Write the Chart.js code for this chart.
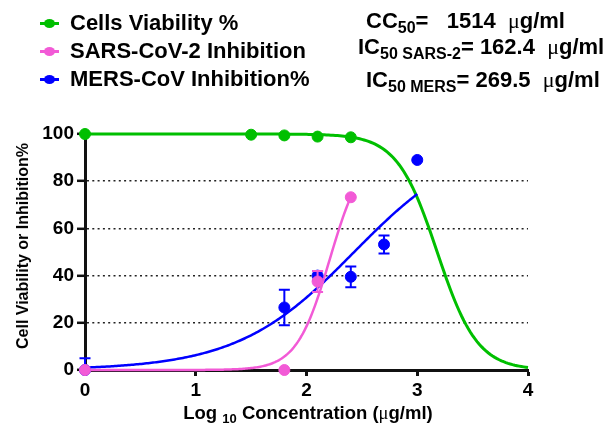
<!DOCTYPE html>
<html>
<head>
<meta charset="utf-8">
<script src="https://cdn.jsdelivr.net/npm/chart.js@4/dist/chart.umd.min.js"></script>
<style>
    body { margin: 0; background: #fff; }
    #wrap {
        position: relative;
        width: 616px;
        height: 425px;
        font-family: "Liberation Sans", Arial, sans-serif;
        font-weight: bold;
        color: #000;
    }
    #chart { position: absolute; left: 0; top: 0; }
    .leg { position: absolute; left: 0; width: 330px; height: 24px; }
    .leg .line { position: absolute; left: 40px; width: 19px; height: 3px; top: 11px; }
    .leg .dot { position: absolute; left: 44px; width: 11px; height: 9px; top: 8px; border-radius: 50%; }
    .leg .txt { position: absolute; left: 70px; top: 0; font-size: 22px; line-height: 24px; white-space: nowrap; }
    .note { position: absolute; font-size: 22px; line-height: 24px; white-space: pre; }
    .note sub { font-size: 16px; vertical-align: -5px; line-height: 0; }
    .mu { font-family: "Liberation Serif", serif; font-weight: normal; }
    #ytitle {
        position: absolute; left: 23px; top: 246px;
        transform: translate(-50%, -50%) rotate(-90deg);
        font-size: 16px; white-space: nowrap;
    }
    #xtitle {
        position: absolute; left: 308px; top: 402px;
        transform: translateX(-50%);
        font-size: 18.5px; white-space: nowrap;
    }
    #xtitle sub { font-size: 13px; vertical-align: -4px; line-height: 0; }
</style>
</head>
<body>
<div id="wrap">
    <canvas id="chart" width="616" height="425"></canvas>

    <div class="leg" style="top:11px">
        <div class="line" style="background:#00bf00"></div><div class="dot" style="background:#00bf00"></div>
        <div class="txt">Cells Viability %</div>
    </div>
    <div class="leg" style="top:39px">
        <div class="line" style="background:#f25ad6"></div><div class="dot" style="background:#f25ad6"></div>
        <div class="txt">SARS-CoV-2 Inhibition</div>
    </div>
    <div class="leg" style="top:67px">
        <div class="line" style="background:#0000ff"></div><div class="dot" style="background:#0000ff"></div>
        <div class="txt">MERS-CoV Inhibition%</div>
    </div>

    <div class="note" id="cc50" style="left:366px; top:9px"></div>
    <div class="note" id="icSars" style="left:358px; top:35px"></div>
    <div class="note" id="icMers" style="left:366px; top:68px"></div>

    <div id="ytitle">Cell Viability or Inhibition%</div>
    <div id="xtitle">Log <sub>10</sub> Concentration (<span class="mu">μ</span>g/ml)</div>
</div>

<script>
// log10 concentrations and measured responses
const cellX = [0, 1.5, 1.8, 2.1, 2.4];
const cellY = [100, 99.7, 99.4, 98.9, 98.6];

const sarsX = [0, 1.8, 2.1, 2.4];
const sarsY = [0, 0, 37.5, 73.2];
const sarsErr = [0, 0, 4.5, 0];

const mersX = [0, 1.8, 2.1, 2.4, 2.7, 3.0];
const mersY = [0, 26.5, 40, 39.5, 53.2, 89];
const mersErr = [5, 7.5, 2, 4.4, 3.8, 0];

const xTicks = [0, 1, 2, 3, 4];
const yTicks = [0, 20, 40, 60, 80, 100];

// fitted dose-response parameters (µg/ml, hill slope, top)
const CC50 = 1514;
const IC50_SARS = 162.4;
const IC50_MERS = 269.5;
const cellHill = 2.4;
const sarsHill = 2.9, sarsTop = 94;
const mersHill = 0.82;

const GREEN = "#00bf00";
const PINK = "#f25ad6";
const BLUE = "#0000ff";

document.getElementById("cc50").innerHTML =
    'CC<sub>50</sub>=   ' + CC50 + '  <span class="mu">μ</span>g/ml';
document.getElementById("icSars").innerHTML =
    'IC<sub>50 SARS-2</sub>= ' + IC50_SARS + '  <span class="mu">μ</span>g/ml';
document.getElementById("icMers").innerHTML =
    'IC<sub>50 MERS</sub>= ' + IC50_MERS + '  <span class="mu">μ</span>g/ml';

function doseCurve(ic50, hill, top, rising, xEnd) {
    const c = Math.log10(ic50);
    const pts = [];
    for (let i = 0; i <= 200; i++) {
        const x = xEnd * i / 200;
        const e = rising ? (c - x) * hill : (x - c) * hill;
        pts.push({ x: x, y: top / (1 + Math.pow(10, e)) });
    }
    return pts;
}

function toPoints(xs, ys) {
    return xs.map((x, i) => ({ x: x, y: ys[i] }));
}

const errorBars = {
    id: "errorBars",
    afterDatasetDraw(chart, args) {
        const ds = chart.data.datasets[args.index];
        if (!ds.errors) return;
        const ctx = chart.ctx;
        const xs = chart.scales.x, ys = chart.scales.y;
        ctx.save();
        ctx.strokeStyle = ds.backgroundColor;
        ctx.lineWidth = 2;
        ds.data.forEach((p, i) => {
            const err = ds.errors[i];
            if (!err) return;
            const px = xs.getPixelForValue(p.x);
            const top = ys.getPixelForValue(p.y + err);
            const bot = ys.getPixelForValue(Math.max(0, p.y - err));
            ctx.beginPath();
            ctx.moveTo(px, top); ctx.lineTo(px, bot);
            ctx.moveTo(px - 5.5, top); ctx.lineTo(px + 5.5, top);
            if (p.y - err > 0) { ctx.moveTo(px - 5.5, bot); ctx.lineTo(px + 5.5, bot); }
            ctx.stroke();
        });
        ctx.restore();
    }
};

function curveSet(data, color, width, order) {
    return {
        type: "line", data: data, borderColor: color, borderWidth: width,
        pointRadius: 0, fill: false, tension: 0, order: order, clip: false
    };
}

function pointSet(data, color, order, errors) {
    return {
        type: "scatter", data: data, backgroundColor: color, borderColor: color,
        pointRadius: 5.5, pointHoverRadius: 5.5, order: order, clip: false, errors: errors
    };
}

new Chart(document.getElementById("chart"), {
    type: "scatter",
    data: {
        datasets: [
            pointSet(toPoints(sarsX, sarsY), PINK, 1, sarsErr),
            pointSet(toPoints(mersX, mersY), BLUE, 2, mersErr),
            pointSet(toPoints(cellX, cellY), GREEN, 3),
            curveSet(doseCurve(IC50_SARS, sarsHill, sarsTop, true, 2.4), PINK, 2.5, 4),
            curveSet(doseCurve(IC50_MERS, mersHill, 100, true, 3.0), BLUE, 2.5, 5),
            curveSet(doseCurve(CC50, cellHill, 100, false, 4.0), GREEN, 3, 6)
        ]
    },
    options: {
        responsive: false,
        animation: false,
        events: [],
        layout: { padding: { left: 0, right: 88, top: 134, bottom: 0 } },
        plugins: { legend: { display: false }, tooltip: { enabled: false } },
        scales: {
            x: {
                type: "linear", min: 0, max: 4,
                afterFit(scale) { scale.height = 55; },
                afterBuildTicks(scale) { scale.ticks = xTicks.map(v => ({ value: v })); },
                border: { display: true, color: "#111", width: 3 },
                grid: { drawOnChartArea: false, tickLength: 6, tickColor: "#111", tickWidth: 3 },
                ticks: {
                    color: "#000", padding: 3,
                    font: { family: "Liberation Sans", size: 19, weight: "bold" }
                }
            },
            y: {
                type: "linear", min: 0, max: 100,
                afterFit(scale) { scale.width = 85; },
                afterBuildTicks(scale) { scale.ticks = yTicks.map(v => ({ value: v })); },
                // border.dash dots the horizontal grid lines
                border: { display: true, color: "#111", width: 3, dash: [2, 3.3] },
                grid: {
                    color: c => (c.tick && (c.tick.value === 0 || c.tick.value === 100)) ? "rgba(0,0,0,0)" : "#222",
                    lineWidth: 1.6,
                    tickLength: 8, tickColor: "#111", tickWidth: 2.5, tickBorderDash: []
                },
                ticks: {
                    color: "#000", padding: 3,
                    font: { family: "Liberation Sans", size: 19, weight: "bold" }
                }
            }
        }
    },
    plugins: [errorBars]
});
</script>
</body>
</html>
